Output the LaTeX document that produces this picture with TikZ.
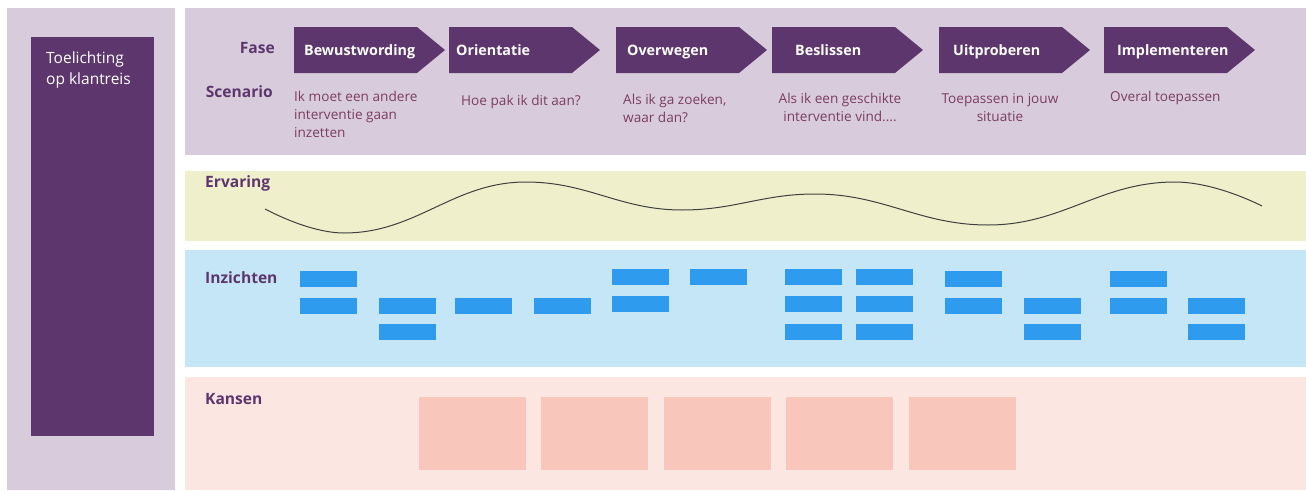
\documentclass[tikz,border=0pt]{standalone}
\usepackage{fontspec}
\setmainfont{Open Sans}
\definecolor{lpurple}{HTML}{D8CCDC}
\definecolor{dpurple}{HTML}{5E366E}
\definecolor{erv}{HTML}{EFEFCB}
\definecolor{inz}{HTML}{C5E6F6}
\definecolor{kan}{HTML}{FCE6E2}
\definecolor{iblue}{HTML}{2E9BEF}
\definecolor{kbox}{HTML}{F9C6BC}
\definecolor{scencol}{HTML}{7B3D63}
\definecolor{curvecol}{HTML}{404040}
\begin{document}
\begin{tikzpicture}[x=1pt,y=-1pt,
  lbl/.style={font=\fontsize{15.6}{18}\selectfont\bfseries, text=dpurple, inner sep=0},
  scen/.style={font=\fontsize{13.6}{18}\selectfont, text=scencol, inner sep=0},
  fasetext/.style={font=\fontsize{14.3}{16}\selectfont\bfseries, text=white, inner sep=0, anchor=base west},
  fasearrow/.style={fill=dpurple},
  insight/.style={fill=iblue, minimum width=57pt, minimum height=16pt, inner sep=0, anchor=north west},
  kans/.style={fill=kbox, minimum width=107pt, minimum height=73pt, inner sep=0, anchor=north west}]
\useasboundingbox (0,0) rectangle (1306,490);
% panels
\fill[lpurple] (7,8) rectangle (175,490);
\fill[lpurple] (185,8) rectangle (1306,155);
\fill[erv] (185,171) rectangle (1306,241);
\fill[inz] (185,250) rectangle (1306,367);
\fill[kan] (185,377) rectangle (1306,490);
% left box
\node[fill=dpurple, minimum width=123pt, minimum height=399pt, inner sep=0, anchor=north west] (toel) at (31,37) {};
\node[font=\fontsize{15.5}{21}\selectfont, text=white, inner sep=0, align=left, anchor=north west] (toeltxt) at (46,48.3) {\strut Toelichting\\op klantreis};
% labels
\node[lbl, anchor=base east] (fase) at (275,53) {Fase};
\node[lbl, anchor=base east] (scenario) at (273,97) {Scenario};
\node[lbl, anchor=base west] (ervaring) at (205,187) {Ervaring};
\node[lbl, anchor=base west] (inzichten) at (205,283) {Inzichten};
\node[lbl, anchor=base west] (kansen) at (205,404) {Kansen};
% phase arrows
\foreach \x/\t/\tx [count=\i] in {294/Bewustwording/304, 449/Orientatie/456, 616/Overwegen/627, 772/Beslissen/795, 939/Uitproberen/953, 1104/Implementeren/1117}{
  \fill[fasearrow] (\x,27) -- ++(123,0) -- ++(28,23) -- ++(-28,23) -- ++(-123,0) -- cycle;
  \node[fasetext] (fase\i) at (\tx,55.5) {\t};
}
% scenarios
\node[scen, align=left, anchor=north west] (sc1) at (294,88.4) {\strut Ik moet een andere\\interventie gaan\\inzetten};
\node[scen, anchor=base west] (sc2) at (461,105) {Hoe pak ik dit aan?};
\node[scen, align=left, anchor=north west] (sc3) at (623,91.4) {\strut Als ik ga zoeken,\\waar dan?};
\node[scen, align=center, anchor=north] (sc4) at (840,90.4) {\strut Als ik een geschikte\\interventie vind....};
\node[scen, align=center, anchor=north] (sc5) at (1000,90.4) {\strut Toepassen in jouw\\situatie};
\node[scen, anchor=base west] (sc6) at (1110,101) {Overal toepassen};
% experience curve
\draw[curvecol, line width=1pt] (265,209) .. controls (290,222) and (320,233) .. (344,233)
  .. controls (417,233) and (453,182) .. (526,182)
  .. controls (588,182) and (620,210) .. (682,210)
  .. controls (735,210) and (762,194) .. (815,194)
  .. controls (884,194) and (919,225) .. (988,225)
  .. controls (1063,225) and (1100,182) .. (1175,182)
  .. controls (1205,182) and (1240,195) .. (1262,206);
% insights
\foreach \x/\y [count=\i] in {300/271,300/298, 379/298,379/324, 455/298, 534/298, 612/269,612/296, 690/269, 785/269,785/296,785/324, 856/269,856/296,856/324, 945/271,945/298, 1024/298,1024/324, 1110/271,1110/298, 1188/298,1188/324}{
  \node[insight] (ins\i) at (\x,\y) {};
}
% kansen
\foreach \x [count=\i] in {419,541,664,786,909}{
  \node[kans] (kb\i) at (\x,397) {};
}
\end{tikzpicture}
\end{document}
